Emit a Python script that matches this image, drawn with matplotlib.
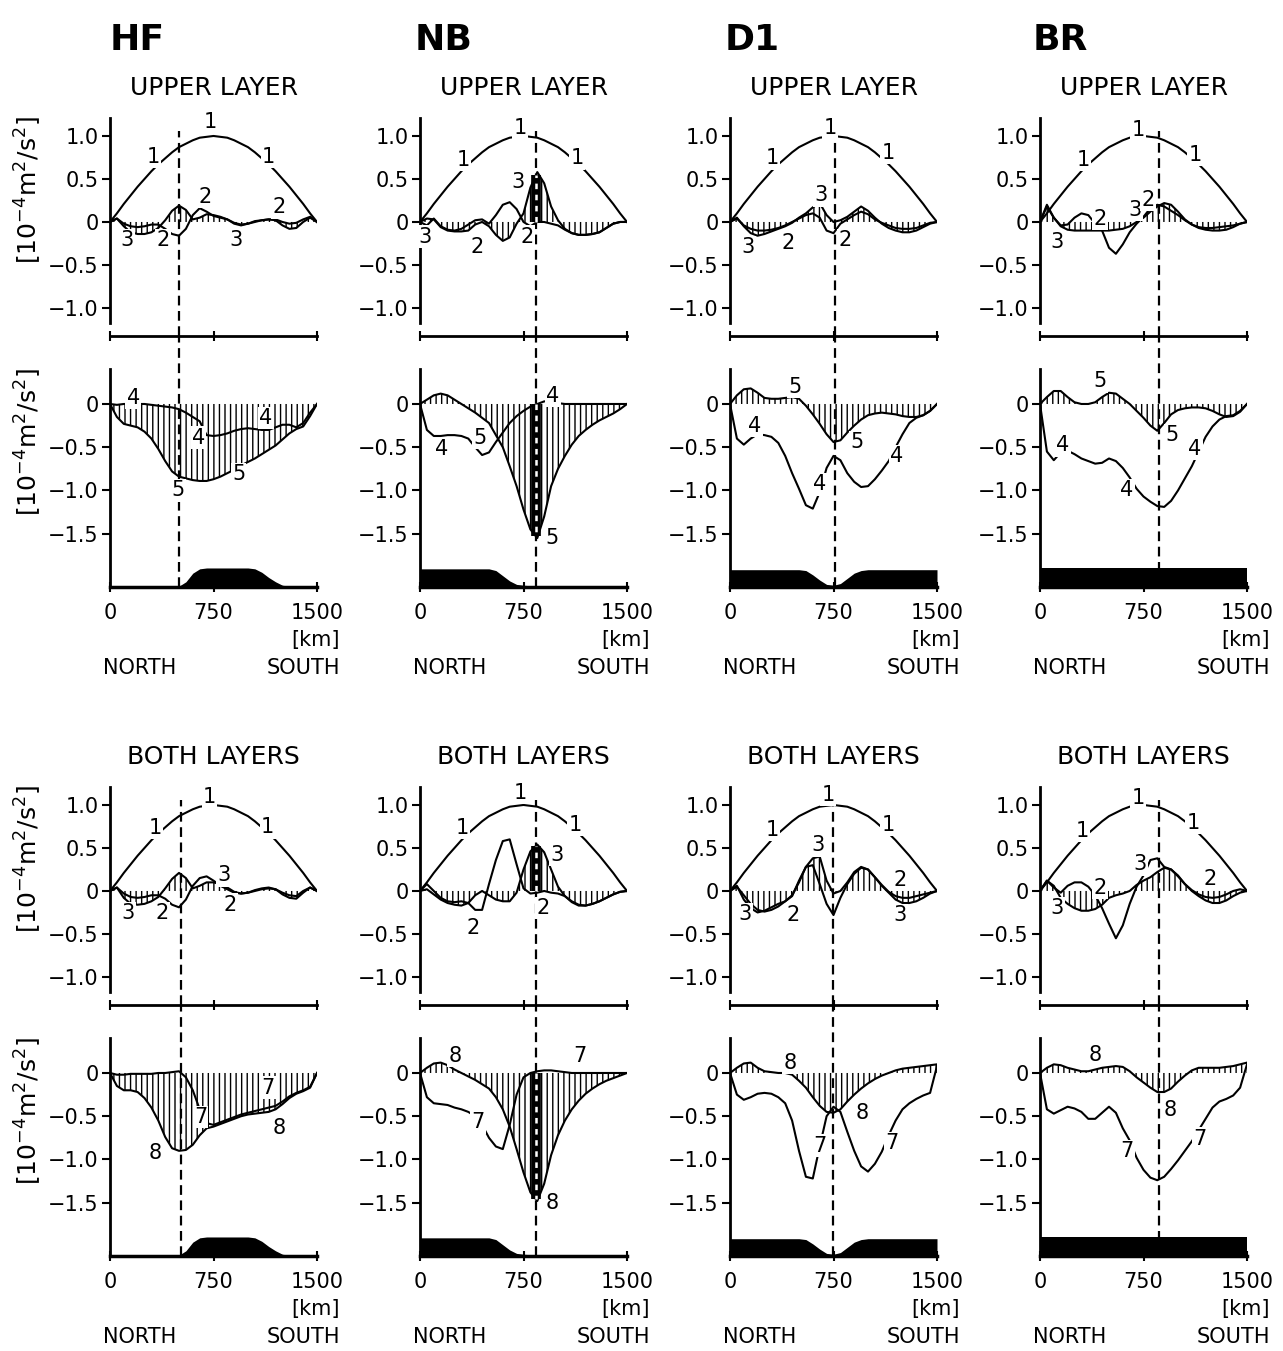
import matplotlib
matplotlib.use('Agg')
import matplotlib.pyplot as plt
import numpy as np
import logging
logging.getLogger('matplotlib.font_manager').setLevel(logging.ERROR)

plt.rcParams['font.family'] = ['DejaVu Sans']
plt.rcParams['hatch.linewidth'] = 1.0
plt.rcParams['lines.scale_dashes'] = False

# ---------------- data ----------------
X_KM = [0, 50, 100, 150, 200, 250, 300, 350, 400, 450, 500, 550, 600, 650, 700, 750,
        800, 850, 900, 950, 1000, 1050, 1100, 1150, 1200, 1250, 1300, 1350, 1400, 1450, 1500]

COLUMNS = ['HF', 'NB', 'D1', 'BR']
X_TICKS = [0, 750, 1500]
X_TICKLABELS = ['0', '750', '1500']
Y_TICKS_TOP = [1.0, 0.5, 0.0, -0.5, -1.0]
Y_TICKLABELS_TOP = ['1.0', '0.5', '0', '\u22120.5', '\u22121.0']
Y_TICKS_BOT = [0.0, -0.5, -1.0, -1.5]
Y_TICKLABELS_BOT = ['0', '\u22120.5', '\u22121.0', '\u22121.5']

CURVE1 = [0.00, 0.10, 0.21, 0.31, 0.41, 0.50, 0.59, 0.67, 0.74, 0.81, 0.87, 0.91, 0.95, 0.98, 0.99, 1.00,
          0.99, 0.98, 0.95, 0.91, 0.87, 0.81, 0.74, 0.67, 0.59, 0.50, 0.41, 0.31, 0.21, 0.10, 0.00]

# ---- UPPER LAYER ----
HF_UP_2 = [0, 0.04, -0.02, -0.05, -0.06, -0.05, -0.03, -0.03, -0.08, -0.14, -0.16, -0.08, 0.08, 0.16, 0.12, 0.07,
           0.05, 0.03, -0.01, -0.03, -0.02, 0.0, 0.02, 0.03, 0.03, 0.0, -0.02, -0.01, 0.03, 0.06, 0]
HF_UP_3 = [0, 0.04, -0.05, -0.12, -0.14, -0.14, -0.12, -0.07, 0.02, 0.13, 0.19, 0.14, 0.03, 0.05, 0.09, 0.08,
           0.06, 0.03, -0.02, -0.04, -0.02, 0.01, 0.02, 0.03, 0.02, -0.04, -0.08, -0.07, 0.0, 0.05, 0]
HF_UP_4 = [0, -0.01, 0.0, 0.0, 0.0, 0.0, -0.01, -0.02, -0.03, -0.04, -0.06, -0.10, -0.15, -0.20, -0.36, -0.37,
           -0.36, -0.34, -0.31, -0.29, -0.28, -0.29, -0.30, -0.30, -0.27, -0.24, -0.24, -0.27, -0.22, -0.10, 0]
HF_UP_5 = [0, -0.15, -0.23, -0.25, -0.27, -0.32, -0.40, -0.52, -0.66, -0.78, -0.84, -0.86, -0.88, -0.89, -0.89, -0.87,
           -0.84, -0.80, -0.76, -0.71, -0.67, -0.63, -0.58, -0.53, -0.48, -0.41, -0.34, -0.29, -0.26, -0.14, 0]

NB_UP_2 = [0, -0.04, 0.04, -0.05, -0.09, -0.10, -0.08, -0.03, 0.02, 0.03, -0.02, 0.08, 0.20, 0.23, 0.15, 0.0,
           -0.05, 0.0, 0.0, -0.02, -0.04, -0.09, -0.13, -0.15, -0.15, -0.14, -0.12, -0.07, -0.02, 0.0, 0]
NB_UP_3 = [0, 0.04, 0.03, -0.06, -0.10, -0.11, -0.11, -0.10, -0.03, 0.0, -0.05, -0.15, -0.22, -0.18, -0.02, 0.10,
           0.40, 0.58, 0.45, 0.18, 0.02, -0.08, -0.13, -0.15, -0.15, -0.14, -0.12, -0.07, -0.02, 0.0, 0]
NB_UP_4 = [0, -0.30, -0.37, -0.37, -0.36, -0.36, -0.37, -0.40, -0.50, -0.59, -0.56, -0.44, -0.33, -0.22, -0.14, -0.08,
           -0.03, 0.0, 0.03, 0.03, 0.01, 0.0, 0, 0, 0, 0, 0, 0, 0, 0, 0]
NB_UP_5 = [0, 0.05, 0.10, 0.12, 0.10, 0.05, 0.0, -0.05, -0.10, -0.16, -0.22, -0.36, -0.50, -0.72, -0.95, -1.22,
           -1.45, -1.55, -1.30, -0.95, -0.75, -0.60, -0.47, -0.37, -0.30, -0.24, -0.19, -0.15, -0.11, -0.06, 0]

D1_UP_2 = [0, 0.04, -0.04, -0.08, -0.10, -0.10, -0.09, -0.07, -0.04, 0.0, 0.04, 0.08, 0.10, 0.05, -0.10, -0.13,
           -0.02, 0.03, 0.08, 0.12, 0.09, 0.03, -0.01, -0.04, -0.07, -0.08, -0.08, -0.07, -0.04, -0.01, 0]
D1_UP_3 = [0, 0.05, -0.05, -0.13, -0.16, -0.14, -0.11, -0.08, -0.05, -0.01, 0.05, 0.10, 0.17, 0.22, 0.08, 0.0,
           0.02, 0.06, 0.12, 0.18, 0.13, 0.05, -0.02, -0.07, -0.10, -0.12, -0.12, -0.10, -0.06, -0.02, 0]
D1_UP_4 = [0, -0.40, -0.47, -0.40, -0.35, -0.36, -0.38, -0.45, -0.60, -0.80, -0.98, -1.17, -1.21, -1.02, -0.74, -0.60,
           -0.65, -0.80, -0.90, -0.96, -0.95, -0.87, -0.77, -0.66, -0.50, -0.35, -0.22, -0.16, -0.13, -0.08, 0]
D1_UP_5 = [0, 0.10, 0.17, 0.18, 0.13, 0.07, 0.06, 0.06, 0.07, 0.08, 0.06, -0.02, -0.12, -0.23, -0.35, -0.44,
           -0.42, -0.33, -0.25, -0.18, -0.13, -0.11, -0.10, -0.11, -0.12, -0.14, -0.15, -0.15, -0.13, -0.08, 0]

BR_UP_2 = [0, 0.18, 0.05, -0.04, -0.03, 0.05, 0.10, 0.08, -0.02, -0.10, -0.30, -0.37, -0.26, -0.12, -0.02, 0.06,
           0.16, 0.20, 0.18, 0.13, 0.08, 0.02, -0.03, -0.06, -0.07, -0.07, -0.06, -0.05, -0.04, -0.02, 0]
BR_UP_3 = [0, 0.20, 0.05, -0.05, -0.09, -0.10, -0.10, -0.10, -0.10, -0.10, -0.10, -0.09, -0.08, -0.05, 0.0, 0.05,
           0.12, 0.18, 0.22, 0.20, 0.12, 0.03, -0.03, -0.07, -0.09, -0.10, -0.10, -0.09, -0.06, -0.02, 0]
BR_UP_4 = [0, -0.55, -0.65, -0.56, -0.54, -0.58, -0.63, -0.66, -0.69, -0.68, -0.63, -0.66, -0.74, -0.85, -0.98, -1.07,
           -1.13, -1.18, -1.19, -1.12, -1.00, -0.86, -0.72, -0.55, -0.38, -0.26, -0.18, -0.14, -0.13, -0.08, 0]
BR_UP_5 = [0, 0.08, 0.15, 0.15, 0.08, 0.02, 0.0, 0.0, 0.02, 0.08, 0.13, 0.12, 0.06, 0.0, -0.08, -0.16,
           -0.25, -0.31, -0.22, -0.12, -0.07, -0.05, -0.04, -0.04, -0.05, -0.08, -0.12, -0.15, -0.14, -0.09, 0]

# ---- BOTH LAYERS ----
HF_BOTH_2 = [0, 0.04, -0.03, -0.07, -0.08, -0.07, -0.05, -0.05, -0.09, -0.16, -0.19, -0.10, 0.06, 0.15, 0.17, 0.12,
             0.06, 0.02, -0.02, -0.03, -0.02, 0.0, 0.02, 0.03, 0.02, -0.02, -0.05, -0.06, 0.0, 0.04, 0]
HF_BOTH_3 = [0, 0.04, -0.08, -0.15, -0.16, -0.15, -0.12, -0.07, 0.03, 0.14, 0.21, 0.15, 0.03, 0.06, 0.10, 0.10,
             0.08, 0.04, -0.01, -0.03, -0.02, 0.01, 0.03, 0.04, 0.02, -0.04, -0.08, -0.09, -0.02, 0.04, 0]
HF_BOTH_7 = [0, -0.02, -0.02, -0.01, -0.01, -0.01, -0.01, 0.0, 0.0, 0.01, 0.02, -0.05, -0.20, -0.42, -0.58, -0.60,
             -0.57, -0.54, -0.51, -0.48, -0.46, -0.44, -0.42, -0.40, -0.38, -0.33, -0.27, -0.23, -0.20, -0.16, 0]
HF_BOTH_8 = [0, -0.15, -0.20, -0.20, -0.22, -0.29, -0.40, -0.55, -0.74, -0.87, -0.90, -0.89, -0.83, -0.72, -0.64, -0.62,
             -0.59, -0.56, -0.53, -0.50, -0.48, -0.47, -0.46, -0.45, -0.42, -0.36, -0.29, -0.24, -0.21, -0.17, 0]

NB_BOTH_2 = [0, 0.08, 0.0, -0.08, -0.12, -0.13, -0.12, -0.14, -0.22, -0.22, 0.08, 0.36, 0.58, 0.60, 0.31, 0.03,
             -0.03, -0.02, 0.0, -0.02, -0.03, -0.06, -0.12, -0.16, -0.17, -0.15, -0.12, -0.08, -0.04, -0.01, 0]
NB_BOTH_3 = [0, 0.02, -0.04, -0.10, -0.14, -0.16, -0.17, -0.14, -0.05, 0.0, -0.05, -0.10, -0.12, -0.12, -0.02, 0.25,
             0.46, 0.54, 0.45, 0.25, 0.05, -0.06, -0.13, -0.17, -0.17, -0.15, -0.12, -0.08, -0.04, -0.01, 0]
NB_BOTH_7 = [0, -0.28, -0.35, -0.36, -0.37, -0.40, -0.42, -0.45, -0.50, -0.60, -0.75, -0.85, -0.88, -0.60, -0.25, -0.05,
             0.0, 0.02, 0.03, 0.03, 0.02, 0.01, 0, 0, 0, 0, 0, 0, 0, 0, 0]
NB_BOTH_8 = [0, 0.06, 0.11, 0.12, 0.09, 0.04, 0.0, -0.04, -0.08, -0.13, -0.18, -0.28, -0.42, -0.62, -0.88, -1.15,
             -1.38, -1.48, -1.28, -0.95, -0.72, -0.55, -0.42, -0.32, -0.24, -0.18, -0.13, -0.09, -0.06, -0.03, 0]

D1_BOTH_2 = [0, 0.05, -0.05, -0.15, -0.22, -0.24, -0.22, -0.18, -0.12, -0.05, 0.10, 0.28, 0.30, 0.08, -0.15, -0.28,
             -0.08, 0.08, 0.20, 0.27, 0.25, 0.16, 0.07, -0.01, -0.06, -0.08, -0.08, -0.06, -0.04, -0.02, 0]
D1_BOTH_3 = [0, 0.06, -0.10, -0.20, -0.25, -0.23, -0.19, -0.15, -0.12, -0.06, 0.12, 0.28, 0.38, 0.40, 0.12, -0.03,
             0.0, 0.10, 0.22, 0.28, 0.25, 0.16, 0.06, -0.02, -0.10, -0.14, -0.14, -0.12, -0.08, -0.03, 0]
D1_BOTH_7 = [0, -0.25, -0.31, -0.28, -0.24, -0.23, -0.24, -0.28, -0.35, -0.55, -0.90, -1.20, -1.22, -0.85, -0.50, -0.39,
             -0.45, -0.68, -0.90, -1.08, -1.14, -1.05, -0.91, -0.72, -0.55, -0.42, -0.35, -0.30, -0.26, -0.23, 0.08]
D1_BOTH_8 = [0, 0.06, 0.11, 0.12, 0.06, 0.02, 0.01, 0.0, 0.0, -0.02, -0.09, -0.17, -0.28, -0.38, -0.45, -0.46,
             -0.42, -0.33, -0.25, -0.18, -0.12, -0.07, -0.03, 0.0, 0.03, 0.05, 0.06, 0.07, 0.08, 0.09, 0.10]

BR_BOTH_2 = [0, 0.12, 0.04, -0.02, 0.06, 0.10, 0.10, 0.05, -0.05, -0.20, -0.38, -0.55, -0.40, -0.15, 0.05, 0.18,
             0.36, 0.38, 0.28, 0.25, 0.17, 0.08, 0.01, -0.04, -0.07, -0.08, -0.07, -0.04, 0.0, 0.02, 0]
BR_BOTH_3 = [0, 0.12, 0.06, -0.08, -0.15, -0.20, -0.23, -0.23, -0.21, -0.16, -0.08, -0.05, -0.03, 0.0, 0.07, 0.12,
             0.16, 0.22, 0.27, 0.25, 0.18, 0.08, 0.0, -0.06, -0.11, -0.14, -0.14, -0.11, -0.06, -0.02, 0]
BR_BOTH_7 = [0, -0.42, -0.47, -0.43, -0.39, -0.41, -0.45, -0.53, -0.53, -0.46, -0.39, -0.46, -0.64, -0.78, -0.98, -1.12,
             -1.21, -1.24, -1.20, -1.11, -1.01, -0.90, -0.79, -0.66, -0.53, -0.40, -0.33, -0.30, -0.26, -0.17, 0.10]
BR_BOTH_8 = [0, 0.06, 0.10, 0.09, 0.06, 0.04, 0.02, 0.02, 0.04, 0.06, 0.07, 0.08, 0.07, 0.02, -0.05, -0.11,
             -0.17, -0.22, -0.22, -0.18, -0.10, -0.03, 0.03, 0.06, 0.06, 0.06, 0.06, 0.07, 0.08, 0.10, 0.12]

# bottom topography (height above the panel floor, same units as the lower panel)
TOPO_HF = [0, 0, 0, 0, 0, 0, 0, 0, 0, 0, 0.01, 0.06, 0.16, 0.21, 0.22, 0.22,
           0.22, 0.22, 0.22, 0.22, 0.22, 0.21, 0.17, 0.11, 0.06, 0.02, 0.01, 0, 0, 0, 0]
TOPO_NB = [0.21, 0.21, 0.21, 0.21, 0.21, 0.21, 0.21, 0.21, 0.21, 0.21, 0.21, 0.19, 0.13, 0.07, 0.03, 0.02,
           0.015, 0.015, 0.015, 0.015, 0.015, 0.015, 0.015, 0.015, 0.015, 0.015, 0.015, 0.015, 0.015, 0.015, 0.015]
TOPO_D1 = [0.20, 0.20, 0.20, 0.20, 0.20, 0.20, 0.20, 0.20, 0.20, 0.20, 0.20, 0.19, 0.14, 0.08, 0.03, 0.02,
           0.04, 0.10, 0.16, 0.19, 0.20, 0.20, 0.20, 0.20, 0.20, 0.20, 0.20, 0.20, 0.20, 0.20, 0.20]
TOPO_BR = [0.22, 0.22, 0.22, 0.22, 0.22, 0.22, 0.22, 0.22, 0.22, 0.22, 0.22, 0.22, 0.22, 0.22, 0.22, 0.22,
           0.22, 0.22, 0.22, 0.22, 0.22, 0.22, 0.22, 0.22, 0.22, 0.22, 0.22, 0.22, 0.22, 0.22, 0.22]

# position of the vertical dashed line [km]  (upper group, lower group)
DASH_UP = [497, 840, 758, 862]
DASH_BOTH = [515, 840, 748, 864]
DENSE_CORE = [False, True, False, False]

# curve labels: (text, km, value)
LAB_UP_TOP = [
    [('1', 313, 0.76), ('1', 728, 1.16), ('1', 1150, 0.76), ('3', 124, -0.21), ('2', 386, -0.21),
     ('2', 692, 0.29), ('2', 1223, 0.17), ('3', 910, -0.21)],
    [('1', 312, 0.72), ('1', 725, 1.09), ('1', 1138, 0.74), ('3', 710, 0.47), ('3', 36, -0.17),
     ('2', 413, -0.29), ('2', 775, -0.17)],
    [('1', 304, 0.74), ('1', 725, 1.09), ('1', 1145, 0.80), ('3', 659, 0.31), ('3', 130, -0.29),
     ('2', 420, -0.24), ('2', 833, -0.21)],
    [('1', 312, 0.72), ('1', 710, 1.07), ('1', 1123, 0.78), ('3', 123, -0.23), ('2', 435, 0.04),
     ('3', 688, 0.14), ('2', 783, 0.26)],
]
LAB_UP_BOT = [
    [('4', 168, 0.07), ('4', 641, -0.39), ('4', 1128, -0.16), ('5', 495, -1.0), ('5', 932, -0.81)],
    [('4', 159, -0.52), ('5', 435, -0.39), ('4', 964, 0.09), ('5', 956, -1.55)],
    [('5', 471, 0.2), ('4', 181, -0.25), ('4', 652, -0.93), ('5', 920, -0.44), ('4', 1210, -0.6)],
    [('5', 435, 0.26), ('4', 167, -0.48), ('4', 630, -1.0), ('5', 956, -0.36), ('4', 1123, -0.52)],
]
LAB_BOTH_TOP = [
    [('1', 328, 0.73), ('1', 721, 1.09), ('1', 1143, 0.74), ('3', 131, -0.26), ('2', 378, -0.26),
     ('3', 823, 0.18), ('2', 874, -0.16)],
    [('1', 304, 0.73), ('1', 725, 1.14), ('1', 1123, 0.77), ('2', 384, -0.43), ('3', 993, 0.42),
     ('2', 891, -0.20)],
    [('1', 304, 0.71), ('1', 710, 1.12), ('1', 1145, 0.77), ('3', 638, 0.53), ('3', 109, -0.27),
     ('2', 456, -0.28), ('2', 1232, 0.13), ('3', 1232, -0.28)],
    [('1', 304, 0.70), ('1', 712, 1.08), ('1', 1109, 0.79), ('3', 123, -0.20), ('2', 435, 0.04),
     ('3', 725, 0.31), ('2', 1232, 0.14)],
]
LAB_BOTH_BOT = [
    [('8', 328, -0.93), ('7', 655, -0.51), ('7', 1143, -0.17), ('8', 1223, -0.64)],
    [('8', 254, 0.20), ('7', 420, -0.57), ('7', 1159, 0.20), ('8', 956, -1.50)],
    [('8', 435, 0.12), ('8', 957, -0.46), ('7', 652, -0.84), ('7', 1174, -0.81)],
    [('8', 398, 0.21), ('8', 942, -0.43), ('7', 630, -0.90), ('7', 1159, -0.76)],
]

UP_TOP = [(HF_UP_2, HF_UP_3), (NB_UP_2, NB_UP_3), (D1_UP_2, D1_UP_3), (BR_UP_2, BR_UP_3)]
UP_BOT = [(HF_UP_4, HF_UP_5), (NB_UP_4, NB_UP_5), (D1_UP_4, D1_UP_5), (BR_UP_4, BR_UP_5)]
BOTH_TOP = [(HF_BOTH_2, HF_BOTH_3), (NB_BOTH_2, NB_BOTH_3), (D1_BOTH_2, D1_BOTH_3), (BR_BOTH_2, BR_BOTH_3)]
BOTH_BOT = [(HF_BOTH_7, HF_BOTH_8), (NB_BOTH_7, NB_BOTH_8), (D1_BOTH_7, D1_BOTH_8), (BR_BOTH_7, BR_BOTH_8)]
TOPOS = [TOPO_HF, TOPO_NB, TOPO_D1, TOPO_BR]

# ---------------- layout ----------------
W, H = 1283, 1351
fig = plt.figure(figsize=(W / 100, H / 100), dpi=100)
fig.patch.set_facecolor('white')


def fx(px):
    return px / W


def fy(py):
    return 1 - py / H


COL_LEFT = [110, 420, 730, 1040]
AX_W = 207
GROUP_OFF = [0, 669]
TOP_Y0, TOP_Y1 = 118, 336   # pixel top / bottom of upper panel
BOT_Y1 = 587                # pixel bottom of lower panel
TOP_LIM = (-1.326, 1.209)
BOT_LIM = (-2.116, 0.786)

FS_TICK = 15
FS_LAB = 15
LW = 1.5
DASH = (7, 4)
XA = np.array(X_KM, dtype=float)
HEAD_FAMILY = ['Liberation Sans Narrow', 'DejaVu Sans']


def add_labels(ax, labels):
    for s, xk, v in labels:
        ax.text(xk, v, s, ha='center', va='center', fontsize=FS_LAB, zorder=6,
                bbox=dict(boxstyle='square,pad=0.06', fc='white', ec='none'))


def dashed(ax, xd, lo, hi, curve, dense):
    ax.plot([xd, xd], [lo, hi], color='k', lw=1.6, dashes=DASH, zorder=4, solid_capstyle='butt')
    if dense:
        yv = float(np.interp(xd, XA, curve))
        ax.plot([xd, xd], [0, yv], color='k', lw=7, zorder=4.5, solid_capstyle='butt')
        ax.plot([xd, xd], [0, yv], color='white', lw=1.8, dashes=(4, 4), zorder=4.6)


for g, off in enumerate(GROUP_OFF):
    tops = UP_TOP if g == 0 else BOTH_TOP
    bots = UP_BOT if g == 0 else BOTH_BOT
    labt = LAB_UP_TOP if g == 0 else LAB_BOTH_TOP
    labb = LAB_UP_BOT if g == 0 else LAB_BOTH_BOT
    dashes_km = DASH_UP if g == 0 else DASH_BOTH
    subtitle = 'UPPER LAYER' if g == 0 else 'BOTH LAYERS'
    for c, left in enumerate(COL_LEFT):
        # ---------- upper panel ----------
        ax = fig.add_axes([fx(left), fy(TOP_Y1 + off), AX_W / W, (TOP_Y1 - TOP_Y0) / H])
        ax.set_xlim(0, 1500)
        ax.set_ylim(*TOP_LIM)
        for sp in ('top', 'right'):
            ax.spines[sp].set_visible(False)
        ax.spines['left'].set_bounds(-1.17, 1.209)
        ax.spines['left'].set_linewidth(2)
        ax.spines['bottom'].set_linewidth(2)
        ax.set_yticks(Y_TICKS_TOP)
        ax.set_yticklabels(Y_TICKLABELS_TOP)
        ax.set_xticks(X_TICKS)
        ax.set_xticklabels([])
        ax.tick_params(axis='y', direction='out', length=6, width=1.5, labelsize=FS_TICK, pad=2)
        ax.tick_params(axis='x', direction='inout', length=7, width=1.5)
        ax.patch.set_alpha(0)
        c2, c3 = tops[c]
        ax.fill_between(XA, 0, c3, facecolor='none', edgecolor='k', hatch='|||', linewidth=0, zorder=2)
        ax.plot(XA, CURVE1, color='k', lw=LW, zorder=3)
        ax.plot(XA, c3, color='k', lw=LW, zorder=3)
        ax.plot(XA, c2, color='k', lw=LW, zorder=3)
        dashed(ax, dashes_km[c], TOP_LIM[0], 1.06, c3, DENSE_CORE[c])
        add_labels(ax, labt[c])

        # ---------- lower panel ----------
        bx = fig.add_axes([fx(left), fy(BOT_Y1 + off), AX_W / W, (BOT_Y1 - TOP_Y1) / H])
        bx.set_xlim(0, 1500)
        bx.set_ylim(*BOT_LIM)
        for sp in ('top', 'right'):
            bx.spines[sp].set_visible(False)
        bx.spines['left'].set_bounds(BOT_LIM[0], 0.40)
        bx.spines['left'].set_linewidth(2)
        bx.spines['bottom'].set_linewidth(2.5)
        bx.set_yticks(Y_TICKS_BOT)
        bx.set_yticklabels(Y_TICKLABELS_BOT)
        bx.set_xticks(X_TICKS)
        bx.set_xticklabels(X_TICKLABELS)
        bx.tick_params(axis='y', direction='out', length=6, width=1.5, labelsize=FS_TICK, pad=2)
        bx.tick_params(axis='x', direction='inout', length=7, width=1.5, labelsize=FS_TICK, pad=8)
        bx.patch.set_alpha(0)
        c4, c5 = bots[c]
        base = BOT_LIM[0]
        bx.fill_between(XA, base, base + np.array(TOPOS[c]), color='k', linewidth=0, zorder=2)
        bx.fill_between(XA, 0, c5, facecolor='none', edgecolor='k', hatch='|||', linewidth=0, zorder=2)
        bx.plot(XA, c5, color='k', lw=LW, zorder=3)
        bx.plot(XA, c4, color='k', lw=LW, zorder=3)
        dashed(bx, dashes_km[c], BOT_LIM[0], BOT_LIM[1], c5, DENSE_CORE[c])
        add_labels(bx, labb[c])

        # ---------- texts ----------
        fig.text(fx(left + AX_W / 2), fy(88 + off), subtitle, ha='center', va='center', fontsize=18)
        fig.text(fx(left + 230), fy(640 + off), '[km]', ha='right', va='center', fontsize=FS_TICK)
        fig.text(fx(left - 7), fy(668 + off), 'NORTH', ha='left', va='center', fontsize=FS_TICK)
        fig.text(fx(left + 230), fy(668 + off), 'SOUTH', ha='right', va='center', fontsize=FS_TICK)

        if c == 0:
            ylab = r'[10$^{-4}$m$^2$/s$^2$]'
            fig.text(fx(28), fy(190 + off), ylab, rotation=90, ha='center', va='center', fontsize=18)
            fig.text(fx(28), fy(442 + off), ylab, rotation=90, ha='center', va='center', fontsize=18)

HEAD_X = [110, 415, 725, 1033]
for name, hx in zip(COLUMNS, HEAD_X):
    fig.text(fx(hx), fy(40), name, ha='left', va='center', fontsize=26, fontweight='bold',
             family=HEAD_FAMILY)

fig.savefig('out.png', dpi=100, facecolor='white')
